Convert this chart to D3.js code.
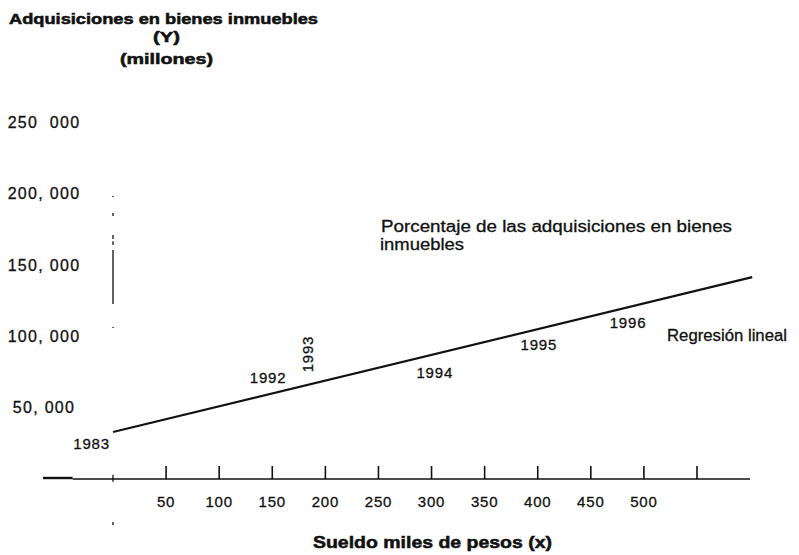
<!DOCTYPE html>
<html>
<head>
<meta charset="utf-8">
<script src="https://cdn.jsdelivr.net/npm/d3@7"></script>
<style>
  html, body { margin: 0; padding: 0; background: #fff; }
  svg { display: block; }
  text { font-family: "Liberation Sans", Arial, Helvetica, sans-serif; fill: #111; stroke: #111; stroke-width: 0.3; }
  text.bold { font-weight: bold; stroke-width: 0.55; }
</style>
</head>
<body>
<svg id="chart" width="799" height="555"></svg>
<script>
// ---- data ----
const yTickValues = [250000, 200000, 150000, 100000, 50000];
const yTickLabels = ["250\u00a0\u00a0000", "200, 000", "150, 000", "100, 000", "50, 000"];
const xTickValues = [50, 100, 150, 200, 250, 300, 350, 400, 450, 500, 550];
const xTickLabels = ["50", "100", "150", "200", "250", "300", "350", "400", "450", "500", ""];
// regression line (sueldo, adquisiciones)
const regressionX = [0, 602];
const regressionY = [32900, 141400];
// year annotations placed along the regression (sueldo, adquisiciones)
const yearLabels = ["1983", "1992", "1993", "1994", "1995", "1996"];
const yearX = [-3, 146, 183, 303, 401, 485];
const yearY = [21000, 67200, 87500, 70700, 90300, 105700];
// broken vertical guide at x = 0 (pieces in data units)
const guideFrom = [198200, 186300, 170900, 166500, 160400, 106400, 3000, -30100];
const guideTo   = [197500, 184200, 168000, 163900, 122600, 105700, -2000, -32200];
// axis extent
const axisXFrom = -66, axisXThick = -38, axisXTo = 600;

const svg = d3.select("#chart");
const x = d3.scaleLinear().domain([0, 550]).range([113, 697]);
const y = d3.scaleLinear().domain([0, 250000]).range([479, 122]);

// titles
svg.append("text").attr("class", "bold").attr("x", 9).attr("y", 24)
  .attr("font-size", 15).attr("textLength", 309).attr("lengthAdjust", "spacingAndGlyphs")
  .text("Adquisiciones en bienes inmuebles");
svg.append("text").attr("class", "bold").attr("x", 153).attr("y", 42)
  .attr("font-size", 15).attr("textLength", 27).attr("lengthAdjust", "spacingAndGlyphs").text("(Y)");
svg.append("text").attr("class", "bold").attr("x", 120).attr("y", 64)
  .attr("font-size", 15).attr("textLength", 93).attr("lengthAdjust", "spacingAndGlyphs").text("(millones)");

// y tick labels (no axis line)
svg.append("g").selectAll("text").data(yTickValues).join("text")
  .attr("x", 44).attr("y", d => y(d)).attr("dy", "0.36em").attr("text-anchor", "middle")
  .attr("font-size", 16).attr("letter-spacing", 1.3)
  .text((d, i) => yTickLabels[i]);

// vertical broken guide
svg.append("g").selectAll("line").data(guideFrom).join("line")
  .attr("x1", x(0)).attr("x2", x(0))
  .attr("y1", d => y(d)).attr("y2", (d, i) => y(guideTo[i]))
  .attr("stroke", "#222").attr("stroke-width", 1.4);

// x axis line
svg.append("line").attr("x1", x(axisXFrom)).attr("x2", x(axisXThick))
  .attr("y1", y(0) - 1).attr("y2", y(0) - 1).attr("stroke", "#111").attr("stroke-width", 2.4);
svg.append("line").attr("x1", x(axisXThick)).attr("x2", x(axisXTo))
  .attr("y1", y(0)).attr("y2", y(0)).attr("stroke", "#111").attr("stroke-width", 1.6);

// x ticks (upward)
svg.append("g").selectAll("line").data(xTickValues).join("line")
  .attr("x1", d => x(d)).attr("x2", d => x(d))
  .attr("y1", y(0)).attr("y2", y(0) - 13)
  .attr("stroke", "#111").attr("stroke-width", 1.6);
svg.append("g").selectAll("text").data(xTickValues).join("text")
  .attr("x", d => x(d)).attr("y", 507).attr("text-anchor", "middle")
  .attr("font-size", 15).attr("letter-spacing", 0.8)
  .text((d, i) => xTickLabels[i]);

// x axis title
svg.append("text").attr("class", "bold").attr("x", 313).attr("y", 548)
  .attr("font-size", 17).attr("textLength", 239).attr("lengthAdjust", "spacingAndGlyphs")
  .text("Sueldo miles de pesos (x)");

// regression line
const line = d3.line().x(d => x(d[0])).y(d => y(d[1]));
svg.append("path").datum(regressionX.map((v, i) => [v, regressionY[i]]))
  .attr("d", line).attr("fill", "none").attr("stroke", "#111").attr("stroke-width", 2.2);

// year labels
svg.append("g").selectAll("text").data(yearLabels).join("text")
  .attr("transform", (d, i) => {
    const px = x(yearX[i]), py = y(yearY[i]);
    return d === "1993" ? `translate(${px},${py}) rotate(-90)` : `translate(${px},${py})`;
  })
  .attr("text-anchor", d => d === "1983" ? "end" : "middle")
  .attr("dy", d => d === "1993" ? "0.36em" : 0)
  .attr("font-size", 15).attr("letter-spacing", 0.8)
  .text(d => d);

// annotations
svg.append("text").attr("x", 381).attr("y", 232)
  .attr("font-size", 16).attr("textLength", 351).attr("lengthAdjust", "spacingAndGlyphs")
  .text("Porcentaje de las adquisiciones en bienes");
svg.append("text").attr("x", 380).attr("y", 250)
  .attr("font-size", 16).attr("textLength", 84).attr("lengthAdjust", "spacingAndGlyphs")
  .text("inmuebles");
svg.append("text").attr("x", 667).attr("y", 341)
  .attr("font-size", 16).attr("textLength", 120).attr("lengthAdjust", "spacingAndGlyphs")
  .text("Regresión lineal");
</script>
</body>
</html>
